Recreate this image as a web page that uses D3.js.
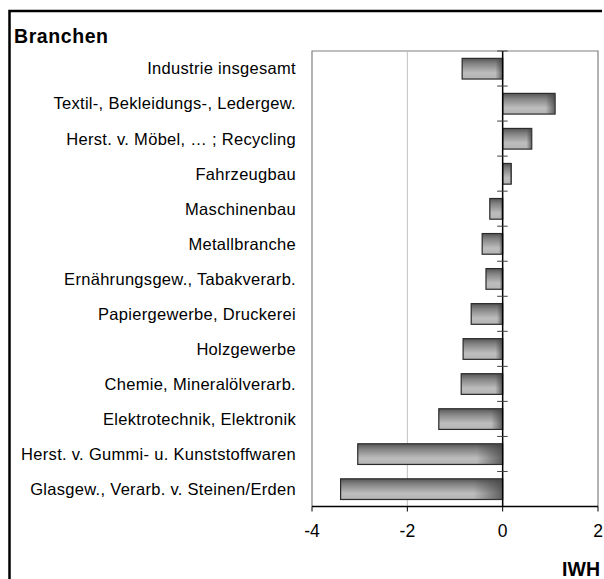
<html>
<head>
<title>Branchen</title>
<style>
body {
  margin: 0;
  background: white;
  overflow: hidden;
}

#plot {
  display: block;
}

svg text {
  font-family: Arial, 'Liberation Sans', sans-serif;
  fill: black;
}

svg .cat-label {
  font-size: 16.5px;
  letter-spacing: 0.3px;
  text-anchor: end;
}

svg .x-tick text {
  font-size: 17.5px;
  text-anchor: middle;
}

svg .title {
  font-size: 19.5px;
  font-weight: bold;
}
</style>
</head>
<body>

<svg id='plot' width='604' height='579'></svg>

<script src='https://cdn.jsdelivr.net/npm/d3@7'></script>
<script>
// Branches, top to bottom.
const categories = [
  'Industrie insgesamt',
  'Textil-, Bekleidungs-, Ledergew.',
  'Herst. v. Möbel, … ; Recycling',
  'Fahrzeugbau',
  'Maschinenbau',
  'Metallbranche',
  'Ernährungsgew., Tabakverarb.',
  'Papiergewerbe, Druckerei',
  'Holzgewerbe',
  'Chemie, Mineralölverarb.',
  'Elektrotechnik, Elektronik',
  'Herst. v. Gummi- u. Kunststoffwaren',
  'Glasgew., Verarb. v. Steinen/Erden'
];
const values = [-0.85, 1.1, 0.61, 0.18, -0.27, -0.43, -0.35, -0.66, -0.83, -0.87, -1.34, -3.04, -3.40];
const xTicks = [-4, -2, 0, 2];
const gridLines = [-2];

const svg = d3.select('#plot');

// Plot area.
const plotLeft = 312, plotRight = 598, plotTop = 51, plotBottom = 506.5;

const x = d3.scaleLinear().domain([-4, 2]).range([plotLeft, plotRight]);
const y = d3.scaleBand().domain(categories).range([plotTop, plotBottom]);

// Gradients for the bars.
const defs = svg.append('defs');
const vg = defs.append('linearGradient')
  .attr('id', 'barShade')
  .attr('x1', 0).attr('y1', 0).attr('x2', 0).attr('y2', 1);
vg.append('stop').attr('offset', '0%').attr('stop-color', '#555555');
vg.append('stop').attr('offset', '25%').attr('stop-color', '#828282');
vg.append('stop').attr('offset', '70%').attr('stop-color', '#bdbdbd');
vg.append('stop').attr('offset', '100%').attr('stop-color', '#b4b4b4');

const hg = defs.append('linearGradient')
  .attr('id', 'barEnd')
  .attr('x1', 0).attr('y1', 0).attr('x2', 1).attr('y2', 0);
hg.append('stop').attr('offset', '0%').attr('stop-color', '#404040').attr('stop-opacity', 0);
hg.append('stop').attr('offset', '82%').attr('stop-color', '#404040').attr('stop-opacity', 0);
hg.append('stop').attr('offset', '100%').attr('stop-color', '#404040').attr('stop-opacity', 0.75);

// Outer frame: only the left and top sides are inside the picture.
svg.append('path')
  .attr('d', 'M9.5,579V11H602')
  .attr('fill', 'none')
  .attr('stroke', 'black')
  .attr('stroke-width', 2.5);

// Plot area border.
svg.append('path')
  .attr('d', `M${plotLeft},${plotBottom}V${plotTop}H${plotRight}V${plotBottom}`)
  .attr('fill', 'none')
  .attr('stroke', '#808080')
  .attr('stroke-width', 1.2);

// Gridline at -2.
svg.selectAll('.grid')
  .data(gridLines)
  .enter().append('line')
  .attr('class', 'grid')
  .attr('x1', d => x(d)).attr('x2', d => x(d))
  .attr('y1', plotTop).attr('y2', plotBottom)
  .attr('stroke', '#c0c0c0')
  .attr('stroke-width', 1);

// Bars.
const barInset = y.bandwidth() * 0.21;
const barH = y.bandwidth() * 0.59;
const bars = svg.selectAll('.bar')
  .data(categories)
  .enter().append('g')
  .attr('class', 'bar');

bars.append('rect')
  .attr('x', (d, i) => x(Math.min(0, values[i])))
  .attr('y', d => y(d) + barInset)
  .attr('width', (d, i) => Math.abs(x(values[i]) - x(0)))
  .attr('height', barH)
  .attr('fill', 'url(#barShade)')
  .attr('stroke', '#2a2a2a')
  .attr('stroke-width', 1.2);

bars.append('rect')
  .attr('x', (d, i) => x(Math.min(0, values[i])))
  .attr('y', d => y(d) + barInset)
  .attr('width', (d, i) => Math.abs(x(values[i]) - x(0)))
  .attr('height', barH)
  .attr('fill', 'url(#barEnd)');

// Category axis at zero, with ticks between the bands.
svg.append('line')
  .attr('x1', x(0)).attr('x2', x(0))
  .attr('y1', plotTop).attr('y2', plotBottom)
  .attr('stroke', 'black')
  .attr('stroke-width', 1.5);

svg.selectAll('.cat-tick')
  .data(categories)
  .enter().append('line')
  .attr('class', 'cat-tick')
  .attr('x1', x(0) - 5.5).attr('x2', x(0) + 5)
  .attr('y1', d => y(d)).attr('y2', d => y(d))
  .attr('stroke', '#404040')
  .attr('stroke-width', 1);

// Category labels on the left.
svg.selectAll('.cat-label')
  .data(categories)
  .enter().append('text')
  .attr('class', 'cat-label')
  .attr('x', 296)
  .attr('y', d => y(d) + y.bandwidth() / 2)
  .attr('dy', '0.36em')
  .text(d => d);

// Value axis.
svg.append('line')
  .attr('x1', plotLeft).attr('x2', plotRight)
  .attr('y1', plotBottom).attr('y2', plotBottom)
  .attr('stroke', 'black')
  .attr('stroke-width', 1.3);

const xt = svg.selectAll('.x-tick')
  .data(xTicks)
  .enter().append('g')
  .attr('class', 'x-tick')
  .attr('transform', d => `translate(${x(d)},${plotBottom})`);
xt.append('line')
  .attr('y1', 0).attr('y2', 5)
  .attr('stroke', 'black');
xt.append('text')
  .attr('y', 30)
  .text(d => d);

// Titles.
svg.append('text')
  .attr('class', 'title')
  .attr('x', 14).attr('y', 42.5)
  .attr('textLength', 94)
  .text('Branchen');

svg.append('text')
  .attr('class', 'title')
  .attr('x', 600).attr('y', 576)
  .attr('text-anchor', 'end')
  .text('IWH');
</script>
</body>
</html>
